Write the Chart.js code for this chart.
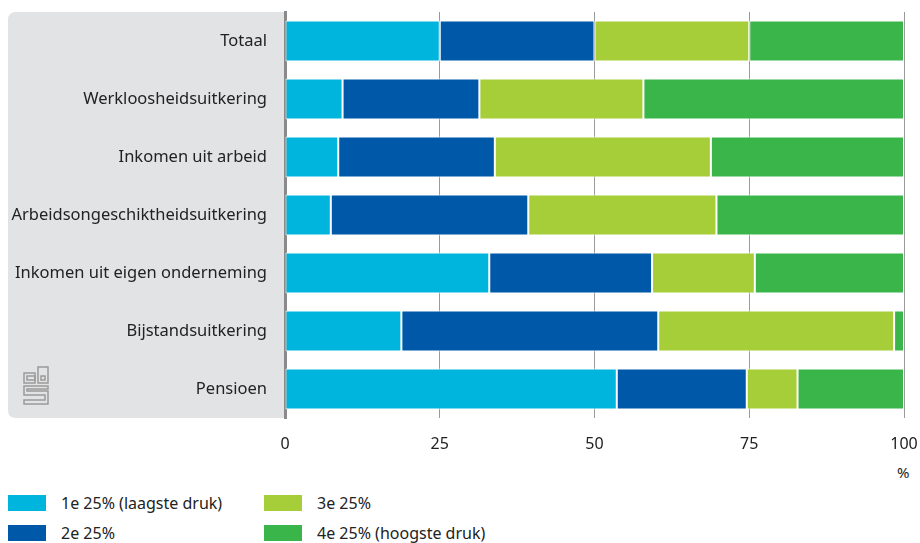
<!DOCTYPE html>
<html>
<head>
<meta charset="utf-8">
<script src="https://cdn.jsdelivr.net/npm/chart.js@4/dist/chart.umd.min.js"></script>
<style>
    body { margin: 0; background: #fff; font-family: "Noto Sans", sans-serif; color: #222; }
    #wrap { position: relative; width: 920px; height: 543px; }
    #chart { position: absolute; left: 0; top: 0; }
    .unit { position: absolute; left: 897px; top: 462px; font-size: 15px; }
    .leg { position: absolute; font-size: 16px; line-height: 20px; white-space: nowrap; }
    .leg span { position: absolute; left: 0; top: 2px; width: 38px; height: 16px; }
    .leg b { font-weight: normal; position: absolute; left: 53px; top: 0; }
</style>
</head>
<body>
<div id="wrap">
    <canvas id="chart" width="920" height="460"></canvas>
    <div class="unit">%</div>
    <div id="legend"></div>
</div>
<script>
const categories = [
    'Totaal',
    'Werkloosheidsuitkering',
    'Inkomen uit arbeid',
    'Arbeidsongeschiktheidsuitkering',
    'Inkomen uit eigen onderneming',
    'Bijstandsuitkering',
    'Pensioen'
];

const seriesNames = ['1e 25% (laagste druk)', '2e 25%', '3e 25%', '4e 25% (hoogste druk)'];
const seriesColors = ['#00b5dd', '#0058a8', '#a6ce39', '#3ab54a'];

const kwartiel1 = [25.0, 9.3, 8.6, 7.4, 33.0, 18.8, 53.6];
const kwartiel2 = [25.0, 22.1, 25.3, 31.9, 26.3, 41.5, 21.0];
const kwartiel3 = [25.0, 26.5, 34.9, 30.4, 16.6, 38.1, 8.2];
const kwartiel4 = [25.0, 42.1, 31.2, 30.3, 24.1, 1.6, 17.2];

const xTicks = [0, 25, 50, 75, 100];

const seriesValues = [kwartiel1, kwartiel2, kwartiel3, kwartiel4];

function noPadding(scale) {
    scale.paddingLeft = 0;
    scale.paddingRight = 0;
    scale.paddingTop = 0;
    scale.paddingBottom = 0;
}

// grey label panel + cbs logo behind the y axis
const panelPlugin = {
    id: 'panel',
    beforeDraw(chart) {
        const { ctx, chartArea } = chart;
        const x = 8, y = chartArea.top, w = chartArea.left - x, h = chartArea.bottom - chartArea.top, r = 8;
        ctx.save();
        ctx.fillStyle = '#e2e3e5';
        ctx.beginPath();
        ctx.moveTo(x + w, y);
        ctx.lineTo(x + r, y);
        ctx.quadraticCurveTo(x, y, x, y + r);
        ctx.lineTo(x, y + h - r);
        ctx.quadraticCurveTo(x, y + h, x + r, y + h);
        ctx.lineTo(x + w, y + h);
        ctx.closePath();
        ctx.fill();

        // logo
        ctx.strokeStyle = '#9a9a9a';
        ctx.lineWidth = 1.5;
        const lx = 24, ly = 367;
        ctx.strokeRect(lx, ly + 6, 11, 10);
        ctx.strokeRect(lx + 3, ly + 9, 8, 4);
        ctx.strokeRect(lx + 14, ly, 10, 16);
        ctx.strokeRect(lx + 17, ly + 9, 4, 4);
        ctx.beginPath();
        ctx.moveTo(lx + 24, ly + 19);
        ctx.lineTo(lx, ly + 19);
        ctx.lineTo(lx, ly + 28);
        ctx.lineTo(lx + 21, ly + 28);
        ctx.lineTo(lx + 21, ly + 33);
        ctx.lineTo(lx, ly + 33);
        ctx.lineTo(lx, ly + 37);
        ctx.lineTo(lx + 24, ly + 37);
        ctx.lineTo(lx + 24, ly + 24);
        ctx.lineTo(lx + 3, ly + 24);
        ctx.lineTo(lx + 3, ly + 22);
        ctx.lineTo(lx + 24, ly + 22);
        ctx.closePath();
        ctx.stroke();
        ctx.restore();
    }
};

const ctx = document.getElementById('chart');

new Chart(ctx, {
    type: 'bar',
    data: {
        labels: categories,
        datasets: seriesValues.map((vals, i) => ({
            label: seriesNames[i],
            data: vals,
            backgroundColor: seriesColors[i],
            borderColor: '#ffffff',
            borderWidth: 1,
            borderSkipped: false,
            barPercentage: 0.71,
            categoryPercentage: 1
        }))
    },
    options: {
        indexAxis: 'y',
        responsive: false,
        animation: false,
        layout: { padding: { top: 12, right: 16, left: 0, bottom: 0 } },
        plugins: {
            legend: { display: false },
            tooltip: { enabled: false }
        },
        scales: {
            x: {
                stacked: true,
                min: 0,
                max: 100,
                afterBuildTicks(scale) {
                    scale.ticks = xTicks.map(v => ({ value: v }));
                },
                afterFit(scale) {
                    scale.height = 42;
                    noPadding(scale);
                },
                grid: {
                    color: ctx => ctx.tick && ctx.tick.value === 0 ? 'rgba(0,0,0,0)' : '#9a9a9a',
                    lineWidth: 1,
                    drawTicks: false
                },
                border: { display: false },
                ticks: {
                    padding: 17,
                    color: '#222',
                    font: { family: 'Noto Sans', size: 16 }
                }
            },
            y: {
                stacked: true,
                afterFit(scale) {
                    scale.width = 285;
                    noPadding(scale);
                },
                grid: { display: false },
                border: { display: true, color: '#8a8a8a', width: 3 },
                ticks: {
                    padding: 10,
                    color: '#222',
                    font: { family: 'Noto Sans', size: 16.5 }
                }
            }
        }
    },
    plugins: [panelPlugin]
});

// legend in two columns
const legend = document.getElementById('legend');
const legendPos = [[8, 493], [8, 523], [264, 493], [264, 523]];
seriesNames.forEach((name, i) => {
    const d = document.createElement('div');
    d.className = 'leg';
    d.style.left = legendPos[i][0] + 'px';
    d.style.top = legendPos[i][1] + 'px';
    d.innerHTML = '<span style="background:' + seriesColors[i] + '"></span><b>' + name + '</b>';
    legend.appendChild(d);
});
</script>
</body>
</html>
